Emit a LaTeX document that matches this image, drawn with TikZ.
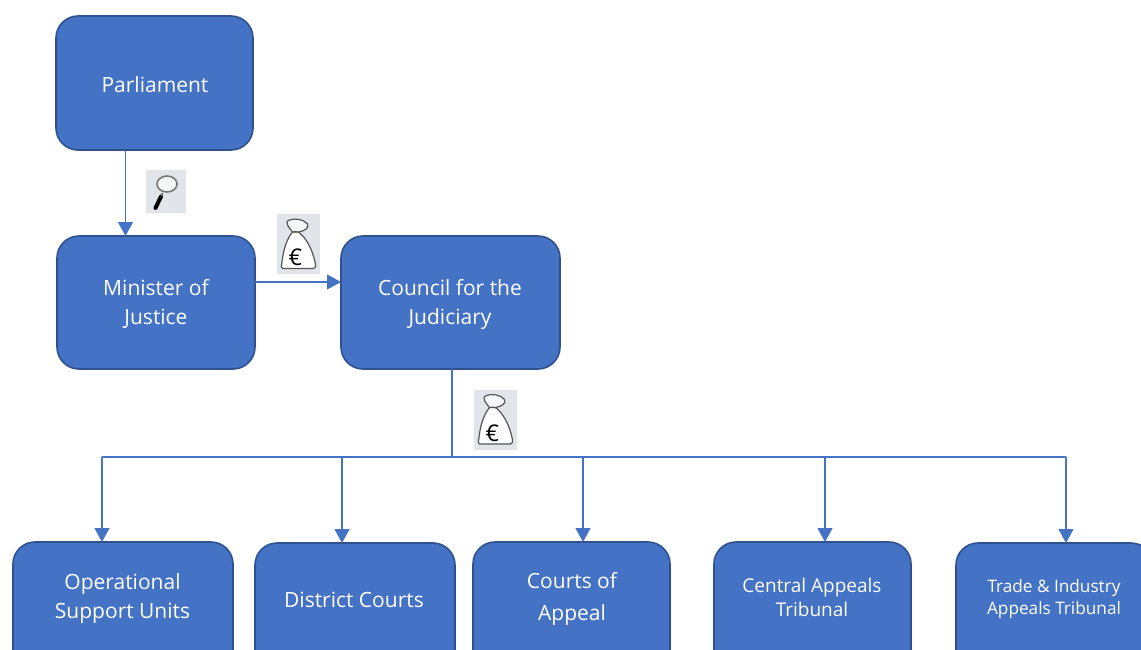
\documentclass[tikz,border=0pt]{standalone}
\usepackage{fontspec}
\setmainfont{Open Sans}
\usetikzlibrary{arrows.meta}
\definecolor{boxfill}{HTML}{4472C4}
\definecolor{boxline}{HTML}{2F528F}
\definecolor{icongrey}{HTML}{E1E5EA}
\definecolor{bagline}{HTML}{555555}
\tikzset{
  box/.style={draw=boxline,line width=1.6pt,fill=boxfill,rounded corners=22pt,anchor=north west,inner sep=0pt,outer sep=0pt},
  boxtext/.style={text=white,align=center,font=\fontsize{21}{29}\selectfont,inner sep=0pt},
  tallertext/.style={text=white,align=center,font=\fontsize{21}{32}\selectfont,inner sep=0pt},
  midtext/.style={text=white,align=center,font=\fontsize{19}{24}\selectfont,inner sep=0pt},
  smalltext/.style={text=white,align=center,font=\fontsize{17.2}{22}\selectfont,inner sep=0pt},
  conn/.style={draw=boxfill,line width=1.1pt,-{Triangle[length=14pt,width=15pt]}},
  bus/.style={draw=boxfill,line width=1.1pt},
  pics/lens/.style={code={
    \fill[icongrey] (-20,-21.5) rectangle (20,21.5);
    \draw[bagline!80,line width=1.6pt,fill=white!60!icongrey] (1,-7.5) ellipse [x radius=10,y radius=8];
    \draw[black,line width=4pt,line cap=round] (-5,5) -- (-10.5,16.5);
    \draw[bagline,line width=1.2pt] (-3.5,1.5) -- (-5,5);
  }},
  pics/bag/.style={code={
    \fill[icongrey] (-21.5,-30) rectangle (21.5,30);
    \draw[bagline,line width=1.2pt,fill=white] (-6,-12)
      .. controls (-11,-6) and (-15,4) .. (-16.5,18)
      .. controls (-17,22) and (-18,24) .. (-16,24.5)
      -- (15,24.5)
      .. controls (17.5,24.5) and (17.5,22) .. (16.5,18)
      .. controls (14,6) and (8,-6) .. (0,-12) -- cycle;
    \draw[bagline,line width=1.2pt,fill=white!70!icongrey] (-9,-24)
      .. controls (-4,-26) and (5,-25) .. (9,-20)
      .. controls (11,-16) and (6,-13) .. (0,-12)
      .. controls (-3,-12) and (-4,-13) .. (-6,-12)
      .. controls (-9,-16) and (-15,-22) .. (-9,-24) -- cycle;
    \node[inner sep=0pt,text=black,font=\fontsize{23}{23}\selectfont] at (-3,13.5) {€};
  }},
}
\begin{document}
\begin{tikzpicture}[x=1pt,y=-1pt]
\useasboundingbox (0,0) rectangle (1141,649);
\clip (0,0) rectangle (1141,649);

\node[box,minimum width=197pt,minimum height=134pt] (parl) at (56,16) {};
\node[box,minimum width=198pt,minimum height=133pt] (mini) at (57,236) {};
\node[box,minimum width=219pt,minimum height=133pt] (coun) at (341,236) {};
\node[box,minimum width=220pt,minimum height=140pt] (ops) at (13,542) {};
\node[box,minimum width=200pt,minimum height=140pt] (dist) at (255,543) {};
\node[box,minimum width=197pt,minimum height=140pt] (appe) at (473,542) {};
\node[box,minimum width=197pt,minimum height=140pt] (cent) at (714,542) {};
\node[box,minimum width=197pt,minimum height=140pt] (trad) at (956,543) {};

\node[boxtext] (tparl) at (155,84.5) {Parliament};
\node[boxtext] (tmini) at (156,304) {Minister of\\Justice};
\node[boxtext] (tcoun) at (450,304) {Council for the\\Judiciary};
\node[boxtext] (tops) at (122.5,598.5) {Operational\\Support Units};
\node[boxtext] (tdist) at (354,599.5) {District Courts};
\node[tallertext] (tappe) at (572,599) {Courts of\\Appeal};
\node[midtext] (tcent) at (812,597) {Central Appeals\\Tribunal};
\node[smalltext] (ttrad) at (1054,599) {Trade \& Industry\\Appeals Tribunal};

\coordinate (trunk) at (452,457);
\draw[conn] ([xshift=-29pt]parl.south) -- ([xshift=-29pt]parl.south |- mini.north);
\draw[conn] ([yshift=20.5pt]mini.east) -- ([yshift=20.5pt]mini.east -| coun.west);
\draw[bus] (coun.south -| trunk) -- (trunk);
\coordinate (d1) at (102,457);
\coordinate (d2) at (342,457);
\coordinate (d3) at (583,457);
\coordinate (d4) at (825,457);
\coordinate (d5) at (1066,457);
\draw[bus] (d1) -- (d5);
\draw[conn] (d1) -- (d1 |- ops.north);
\draw[conn] (d2) -- (d2 |- dist.north);
\draw[conn] (d3) -- (d3 |- appe.north);
\draw[conn] (d4) -- (d4 |- cent.north);
\draw[conn] (d5) -- (d5 |- trad.north);

\pic at (166,191.5) {lens};
\pic at (298.5,244) {bag};
\pic at (495.5,419.5) {bag};
\end{tikzpicture}
\end{document}
